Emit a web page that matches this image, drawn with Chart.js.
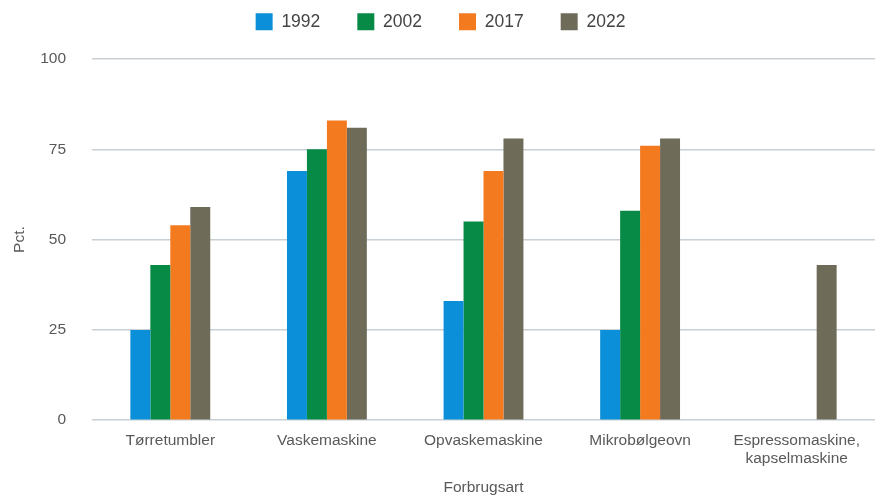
<!DOCTYPE html>
<html>
<head>
<meta charset="utf-8">
<script src="https://cdn.jsdelivr.net/npm/chart.js@4"></script>
<style>
  html, body { margin: 0; padding: 0; background: #fff; }
  #wrap { width: 875px; height: 499px; }
</style>
</head>
<body>
<div id="wrap"><canvas id="chart"></canvas></div>
<script>
// Husstandenes forbrugsgoder - andel i pct.
const categories = ['Tørretumbler', 'Vaskemaskine', 'Opvaskemaskine', 'Mikrobølgeovn', ['Espressomaskine,', 'kapselmaskine']];
const years = ['1992', '2002', '2017', '2022'];
const colors = ['#0a8fd8', '#088a47', '#f47a20', '#6e6b59'];

const values1992 = [25, 69, 33, 25, null];
const values2002 = [43, 75, 55, 58, null];
const values2017 = [54, 83, 69, 76, null];
const values2022 = [59, 81, 78, 78, 43];

const yTicks = [0, 25, 50, 75, 100];

const seriesValues = [values1992, values2002, values2017, values2022];

const textColor = '#595959';
const fontFamily = '"Liberation Sans", Arial, sans-serif';

// legend needs wide gaps between items but sits close to the top,
// so fix its height instead of letting padding blow it up
const legendHeight = {
    id: 'legendHeight',
    beforeInit(chart) {
        const fitLegend = chart.legend.fit;
        chart.legend.fit = function () {
            fitLegend.bind(chart.legend)();
            this.height = 83;
        };
    }
};

new Chart(document.getElementById('chart'), {
    type: 'bar',
    data: {
        labels: categories,
        datasets: years.map((year, i) => ({
            label: year,
            data: seriesValues[i],
            backgroundColor: colors[i],
            borderWidth: 0,
            categoryPercentage: 0.51,
            barPercentage: 1.0
        }))
    },
    plugins: [legendHeight],
    options: {
        responsive: true,
        maintainAspectRatio: false,
        animation: false,
        layout: {
            padding: { top: -24, right: 0, bottom: 2, left: 6 }
        },
        plugins: {
            legend: {
                position: 'top',
                labels: {
                    boxWidth: 17,
                    boxHeight: 17,
                    padding: 37,
                    color: '#444444',
                    font: { family: fontFamily, size: 17.5 }
                }
            },
            tooltip: { enabled: false }
        },
        scales: {
            x: {
                grid: { display: false },
                border: { display: false },
                ticks: {
                    color: textColor,
                    font: { family: fontFamily, size: 15.5 },
                    maxRotation: 0,
                    autoSkip: false,
                    padding: 3
                },
                title: {
                    display: true,
                    text: 'Forbrugsart',
                    color: textColor,
                    font: { family: fontFamily, size: 15.5 },
                    padding: { top: 7, bottom: 0 }
                }
            },
            y: {
                min: 0,
                max: 100,
                afterBuildTicks: axis => {
                    axis.ticks = yTicks.map(v => ({ value: v }));
                },
                afterFit: axis => {
                    axis.width = 86;
                },
                grid: {
                    color: '#c9d0d5',
                    lineWidth: 1.5,
                    drawTicks: false
                },
                border: { display: false },
                ticks: {
                    color: textColor,
                    font: { family: fontFamily, size: 15.5 },
                    padding: 26
                },
                title: {
                    display: true,
                    text: 'Pct.',
                    color: textColor,
                    font: { family: fontFamily, size: 15.5 },
                    padding: { top: 4, bottom: 12 }
                }
            }
        }
    }
});
</script>
</body>
</html>
